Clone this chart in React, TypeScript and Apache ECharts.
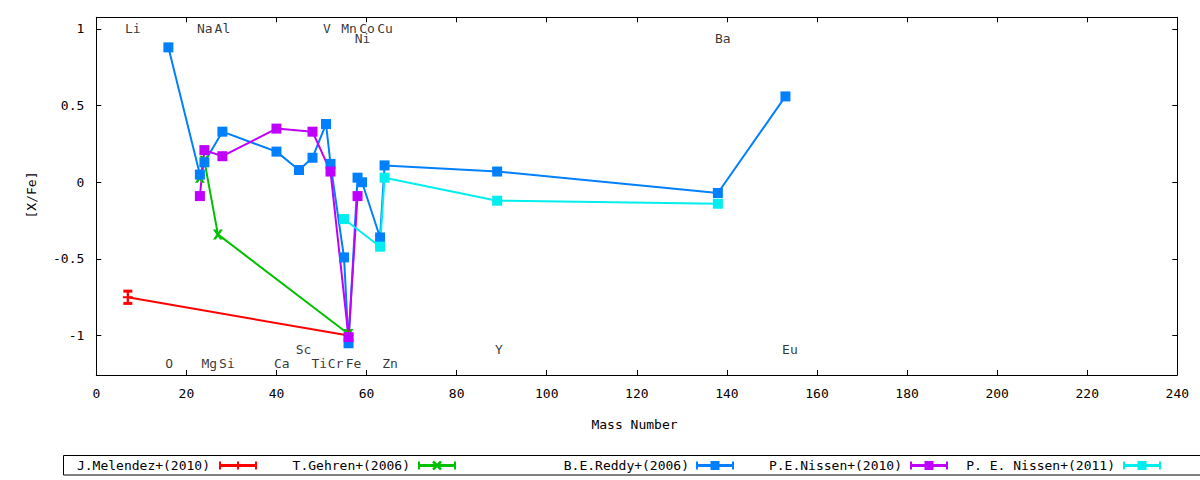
import React, { useEffect, useRef } from "react";
import * as echarts from "echarts";

// ---- data ----
const melendezX = [7, 56];
const melendezY = [-0.75, -1.0];
const melendezErr = [0.04, 0];

const gehrenX = [23, 24, 27, 56];
const gehrenY = [0.03, 0.14, -0.34, -0.99];

const reddyX = [16, 23, 24, 28, 40, 45, 48, 51, 52, 55, 56, 58, 59, 63, 64, 89, 138, 153];
const reddyY = [0.88, 0.05, 0.13, 0.33, 0.2, 0.08, 0.16, 0.38, 0.12, -0.49, -1.05, 0.03, 0.0, -0.36, 0.11, 0.07, -0.07, 0.56];

const nissen10X = [23, 24, 28, 40, 48, 52, 56, 58];
const nissen10Y = [-0.09, 0.21, 0.17, 0.35, 0.33, 0.07, -1.01, -0.09];

const nissen11X = [55, 63, 64, 89, 138];
const nissen11Y = [-0.24, -0.42, 0.03, -0.12, -0.14];

const elementNames = ["Li", "Na", "Al", "V", "Mn", "Co", "Cu", "Ni", "Ba", "O", "Mg", "Si", "Ca", "Sc", "Ti", "Cr", "Fe", "Zn", "Y", "Eu"];
const elementX = [8.1, 24.1, 28.0, 51.2, 56.1, 60.1, 64.1, 59.1, 139.1, 16.2, 25.1, 29.0, 41.2, 46.0, 49.5, 53.1, 57.1, 65.2, 89.4, 154.0];
const elementY = [1.0, 1.0, 1.0, 1.0, 1.0, 1.0, 1.0, 0.935, 0.935, -1.18, -1.18, -1.18, -1.18, -1.09, -1.18, -1.18, -1.18, -1.18, -1.09, -1.09];

const legendNames = ["J.Melendez+(2010)", "T.Gehren+(2006)", "B.E.Reddy+(2006)", "P.E.Nissen+(2010)", "P. E. Nissen+(2011)"];

const xTicks = [0, 20, 40, 60, 80, 100, 120, 140, 160, 180, 200, 220, 240];
const yTicks = [-1, -0.5, 0, 0.5, 1];

// ---- styles ----
const colors = ["#ff0000", "#00c000", "#0080ff", "#c000ff", "#00eeee"];
const FONT = "DejaVu Sans Mono";
const FS = 13;
const plusPath = "path://M4,0H6V4H10V6H6V10H4V6H0V4H4Z";
const crossPath = "path://M0,0H3L5,3L7,0H10L6.5,5L10,10H7L5,7L3,10H0L3.5,5Z";

const zip = (xs: number[], ys: number[]) => xs.map((x, i) => [x, ys[i]]);

function legendGraphics() {
  const textRight = [210, 410, 689, 902, 1115];
  const sampleStart = [219, 418, 696, 910, 1123];
  const len = 38;
  const cy = 465.5;
  const els: any[] = [
    {
      type: "rect",
      shape: { x: 63.5, y: 455.5, width: 1160, height: 19.5 },
      style: { fill: "none", stroke: "#000", lineWidth: 1 },
    },
  ];
  legendNames.forEach((name, i) => {
    const c = colors[i];
    const x0 = sampleStart[i];
    const x1 = x0 + len;
    const mx = (x0 + x1) / 2;
    els.push({
      type: "text",
      x: textRight[i],
      y: cy,
      style: { text: name, fill: "#000", font: `${FS}px '${FONT}'`, align: "right", verticalAlign: "middle" },
    });
    els.push({ type: "line", shape: { x1: x0, y1: cy, x2: x1, y2: cy }, style: { stroke: c, lineWidth: 3 } });
    els.push({ type: "line", shape: { x1: x0 + 1, y1: cy - 4, x2: x0 + 1, y2: cy + 4 }, style: { stroke: c, lineWidth: 2 } });
    els.push({ type: "line", shape: { x1: x1 - 1, y1: cy - 4, x2: x1 - 1, y2: cy + 4 }, style: { stroke: c, lineWidth: 2 } });
    if (i === 0) {
      els.push({ type: "line", shape: { x1: mx, y1: cy - 4, x2: mx, y2: cy + 4 }, style: { stroke: c, lineWidth: 2 } });
    } else if (i === 1) {
      els.push({ type: "line", shape: { x1: mx - 4, y1: cy - 4, x2: mx + 4, y2: cy + 4 }, style: { stroke: c, lineWidth: 2.5 } });
      els.push({ type: "line", shape: { x1: mx - 4, y1: cy + 4, x2: mx + 4, y2: cy - 4 }, style: { stroke: c, lineWidth: 2.5 } });
    } else {
      els.push({ type: "rect", shape: { x: mx - 4.5, y: cy - 4.5, width: 9, height: 9 }, style: { fill: c } });
    }
  });
  return els;
}

export default function App() {
  const ref = useRef<HTMLDivElement>(null);
  useEffect(() => {
    if (!ref.current) return;
    const chart = echarts.init(ref.current, null, { renderer: "svg" });
    const axisCommon = {
      min: 0,
      max: 240,
      interval: 20,
      axisLine: { show: true, onZero: false, lineStyle: { color: "#000", width: 1 } },
      axisTick: { show: true, inside: true, length: 5, lineStyle: { color: "#000" } },
      splitLine: { show: false },
    };
    const yCommon = {
      min: -1.257,
      max: 1.076,
      axisLine: { show: true, onZero: false, lineStyle: { color: "#000", width: 1 } },
      axisTick: { show: true, inside: true, length: 5, lineStyle: { color: "#000" }, customValues: yTicks },
      splitLine: { show: false },
    };
    const lineSeries = (name: string, xs: number[], ys: number[], color: string, symbol: string, size: number) => ({
      type: "line",
      name,
      data: zip(xs, ys),
      symbol,
      symbolSize: size,
      showAllSymbol: true,
      lineStyle: { color, width: 2 },
      itemStyle: { color, opacity: 1 },
      emphasis: { disabled: true },
      silent: true,
      z: 3,
    });
    chart.setOption({
      animation: false,
      textStyle: { fontFamily: FONT, fontSize: FS, color: "#000" },
      grid: { left: 96.3, right: 22.7, top: 17.3, bottom: 105, containLabel: false, outerBoundsMode: "none" },
      xAxis: [
        {
          type: "value",
          position: "bottom",
          ...axisCommon,
          axisLabel: { show: true, margin: 12, color: "#000", fontFamily: FONT, fontSize: FS, customValues: xTicks },
        },
        {
          type: "value",
          position: "top",
          ...axisCommon,
          axisLabel: { show: false },
        },
      ],
      yAxis: [
        {
          type: "value",
          position: "left",
          ...yCommon,
          axisLabel: { show: true, margin: 12, color: "#000", fontFamily: FONT, fontSize: FS, customValues: yTicks },
        },
        {
          type: "value",
          position: "right",
          ...yCommon,
          axisLabel: { show: false },
        },
      ],
      series: [
        {
          type: "scatter",
          data: elementNames.map((n, i) => ({ name: n, value: [elementX[i], elementY[i]] })),
          symbolSize: 1,
          itemStyle: { color: "rgba(0,0,0,0)" },
          label: {
            show: true,
            position: "inside",
            formatter: "{b}",
            color: "#000",
            fontFamily: FONT,
            fontSize: FS,
          },
          silent: true,
          z: 2,
        },
        lineSeries(legendNames[0], melendezX, melendezY, colors[0], plusPath, 10),
        {
          type: "custom",
          data: melendezX.map((x, i) => [x, melendezY[i], melendezErr[i]]),
          encode: { x: 0, y: 1 },
          silent: true,
          z: 3,
          renderItem: (_p: any, api: any) => {
            const x = api.value(0);
            const y = api.value(1);
            const e = api.value(2);
            if (!e) return { type: "group", children: [] };
            const top = api.coord([x, y + e]);
            const bot = api.coord([x, y - e]);
            const st = { stroke: colors[0], lineWidth: 2 };
            return {
              type: "group",
              children: [
                { type: "line", shape: { x1: top[0], y1: top[1], x2: bot[0], y2: bot[1] }, style: st },
                { type: "line", shape: { x1: top[0] - 4.5, y1: top[1], x2: top[0] + 4.5, y2: top[1] }, style: { ...st, lineWidth: 3 } },
                { type: "line", shape: { x1: bot[0] - 4.5, y1: bot[1], x2: bot[0] + 4.5, y2: bot[1] }, style: { ...st, lineWidth: 3 } },
              ],
            };
          },
        },
        lineSeries(legendNames[1], gehrenX, gehrenY, colors[1], crossPath, 10),
        lineSeries(legendNames[2], reddyX, reddyY, colors[2], "rect", 10),
        lineSeries(legendNames[3], nissen10X, nissen10Y, colors[3], "rect", 10),
        lineSeries(legendNames[4], nissen11X, nissen11Y, colors[4], "rect", 10),
      ],
      graphic: [
        {
          type: "text",
          x: 31,
          y: 195,
          rotation: Math.PI / 2,
          style: { text: "[X/Fe]", fill: "#000", font: `${FS}px '${FONT}'`, align: "center", verticalAlign: "middle" },
        },
        {
          type: "text",
          x: 634.5,
          y: 424,
          style: { text: "Mass Number", fill: "#000", font: `${FS}px '${FONT}'`, align: "center", verticalAlign: "middle" },
        },
        ...legendGraphics(),
      ],
    });
    return () => chart.dispose();
  }, []);
  return (
    <div
      ref={ref}
      style={{ position: "absolute", left: 0, top: 0, width: 1200, height: 480, background: "#fff" }}
    />
  );
}
